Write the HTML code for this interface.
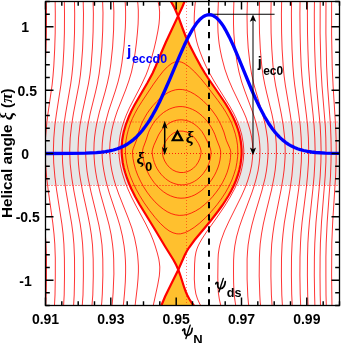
<!DOCTYPE html>
<html><head><meta charset="utf-8"><style>
html,body{margin:0;padding:0;background:#fff;width:342px;height:343px;overflow:hidden}
svg{display:block;will-change:transform}
</style></head><body>
<svg width="342" height="343" viewBox="0 0 342 343">
<defs><clipPath id="cp"><rect x="45.5" y="1.5" width="294.0" height="304.0"/></clipPath></defs>
<g clip-path="url(#cp)">
<rect x="45.5" y="122.4" width="294.0" height="62.6" fill="#e6e6e6"/>
<path d="M186,-2 182.5,6.5 178.1,16 183,29.5 185.9,37 189.6,45 195.5,56.5 200.9,66.5 204.5,72.5 208,78 220.7,96.5 225.4,103.5 229.6,110.5 233,117 234.8,121 236.6,125.5 238,129.5 239.2,133.5 240.1,137.5 240.8,141.5 241.3,145.5 241.6,149.5 241.6,154.5 241.2,159.5 240.4,165 239.3,170 237.9,175 235.9,180.5 233.6,186 231.1,191 228.6,195.5 225.5,200.5 222.2,205.5 218.2,211 210.1,221.5 194.6,240 189.1,247.5 186.9,251 184.8,255 178.4,269.5 178.4,270 180.4,275.5 184.2,287.5 185.7,291.5 187.2,295 189.3,299 191.9,303 194.2,306 197.5,309.5 160.1,309.5 162.2,303.5 165.1,296.5 168.5,289.5 176.7,273 178.2,270 178.2,269.5 176.2,265 173.5,260 165.4,247 154.9,229.5 139.6,204.5 135.1,196.5 131.4,189 129,183.5 126.9,178 125.1,172.5 123.7,167.5 122.7,162.5 122,157 121.6,152.5 121.6,147.5 122.2,140 122.9,136 123.7,132 126,124 128.9,116.5 131.4,111 134.5,105 147.6,82.5 152.7,73 155.8,66 161.6,52 165.7,42.5 177.9,16.5 178,16 177.6,15 174.3,7.5 171.5,2.5 168.6,-2Z" fill="#FFC02E"/>
<g stroke="#ff0000" fill="none" stroke-dasharray="1 2">
<path d="M45.5,122H339.5" stroke-width="1.2" opacity="0.7"/>
<path d="M45.5,185.5H339.5" stroke-width="1" opacity="0.85"/>
<path d="M46.0,153.5H339.5" stroke-width="1" opacity="0.85"/>
<path d="M186.5,2.0V305.5" stroke-width="1" opacity="0.5"/>
</g>
<g stroke="#ff0000" stroke-width="0.8" fill="none">
<path d="M46.3,-2 46.5,14 46.4,33 46,49 45.2,66 44.4,76 43.5,85 39.8,114 38.5,125 37.6,138 37.2,150 37.5,163 38.5,177 40,190 44.3,223 45.3,234 46,244 46.5,258 46.5,276 46.2,295 45.6,309"/>
<path d="M55.1,-2 55.3,14 55.2,33 54.7,49 53.8,66 53,76 52.1,85 47.9,114 46.6,125 45.5,138 45.2,150 45.5,163 46.6,177 48.2,190 52.8,223 54,234 54.8,244 55.3,258 55.3,276 55,295 54.3,309"/>
<path d="M64.3,-2 64.5,14 64.4,33 63.9,49 63,65 62.1,75 60.9,85 56.4,114 54.9,125 53.8,138 53.4,150 53.7,163 54.9,177 56.6,190 61.9,224 63.1,234 63.9,244 64.4,258 64.5,276 64.2,295 63.4,309"/>
<path d="M74.4,-2 74.7,14 74.5,33 73.9,49 72.9,65 71.9,75 70.7,84 65.5,114 63.9,125 62.7,138 62.2,150 62.6,163 63.9,177 65.8,190 71.7,224 73,234 73.9,244 74.5,258 74.6,276 74.2,295 73.4,309"/>
<path d="M83.1,-2 83.5,14 83.2,33 82.6,49 81.4,65 80.4,75 79.1,84 73.5,113 71.6,125 70.2,138 69.7,150 69.9,157 70.2,164 71.8,178 73.9,191 80.2,224 81.6,234 82.6,244 83.3,258 83.4,276 83,295 82,309"/>
<path d="M93,-2 93.4,14 93.1,32 92.4,48 91.1,65 89.9,75 88.4,84 82.2,113 80,125 78.5,138 78,150 78.1,157 78.5,164 79.2,171 80.2,178 82.5,191 87.8,215 89.8,225 91.4,235 92.5,245 93.2,259 93.3,276 92.8,295 91.7,309"/>
<path d="M102.5,-2 103,13 102.7,31 101.9,47 100.4,64 99.1,74 97.5,83 95.5,92 90.3,113 88.1,124 87,131 86.3,137 85.9,143 85.6,150 85.8,157 86.3,164 87,171 88.1,178 91,192 96.6,215 98.9,225 100.7,235 102,245 102.8,259 102.9,275 102.3,294 101.8,302 101.1,309"/>
<path d="M113.3,-2 113.9,12 113.6,30 112.6,47 110.8,64 109.3,74 107.4,83 105.1,92 99.4,112 96.6,124 95.4,131 94.6,137 94.1,143 93.9,150 94.1,157 94.6,164 95.5,171 96.9,179 100.2,193 106.7,216 109.1,225 111.2,235 112.6,245 113.3,252 113.7,259 113.9,274 113.1,293 112.4,302 111.7,309"/>
<path d="M124.8,-2 125.3,4 125.6,11 125.6,19 125.3,28 124,46 121.9,63 120.2,73 118,82 115.3,91 108.6,111 105.4,123 103.9,130 102.9,137 102.3,143 102,150 102.2,157 102.8,164 103.9,171 105.5,179 107.3,186 109.3,193 117.3,217 120,226 122.4,236 124.1,246 124.9,253 125.4,260 125.6,266 125.6,273 125.3,282 124.6,292 123.8,301 122.9,309"/>
<path d="M137.2,-2 137.9,4 138.3,10 138.3,17 138.1,24 137.4,33 136.4,43 135.1,53 133.6,62 131.5,72 128.8,81 125.6,90 117.3,111 115.3,117 113.5,123 111.9,130 110.7,137 110,143 109.7,150 110,157 110.7,164 111.9,171 113.8,179 115.9,186 118.7,194 128.2,218 131.8,228 134.6,238 136.6,248 137.6,255 138.1,261 138.4,266 138.4,272 138,279 137.3,287 134.7,309"/>
<path d="M157,-2 158.2,2 159.2,7 159.6,12 159.5,18 159,24 157.9,31 156.1,40 154,49 149.9,64 147.9,70 146,75 141.3,85 129.4,108 126.3,115 124,121 121.8,128 120.2,135 119.2,142 118.8,149 119.2,157 120.3,165 122.2,173 125.1,182 127.9,189 131.5,197 135.6,205 145.8,224 150.6,234 153.1,240 155.2,246 157.3,253 158.8,259 159.4,263 159.8,267 159.7,271 159.3,276 157.7,285 152.5,309"/>
<path d="M195.8,-2 194.9,6 194.4,13 194.2,19 194.3,25 194.7,31 195.5,36 196.6,41 198,46 200.1,52 202.8,59 205.9,66 208.9,72 214.6,82 229.6,106 233.5,113 236.4,119 239.5,127 241.8,135 243.2,143 243.8,150 243.7,154 243.4,159 242.7,164 241.7,169 240.7,173 239.1,178 237.2,183 235,188 230.2,197 224.7,206 218.6,215 205.8,233 201.9,239 199.6,243 198.1,246 196.9,249 196,252 195.1,257 194.6,264 194.3,279 194.9,288 195.9,294 197.5,299 199.8,304 203,309"/>
<path d="M218.5,-2 217.8,16 217.8,25 218,32 218.5,38 219.2,44 220.4,51 221.9,58 224.8,69 228.3,79 232.6,89 243.2,111 245.8,117 247.9,123 250,130 251.6,137 252.5,144 252.8,150 252.6,157 251.7,165 250,173 247.6,181 245,188 241.5,196 229.1,221 224.5,231 221.2,240 220.1,244 219.2,248 218.3,254 218,260 217.8,277 218,287 218.4,293 219.3,299 220.4,304 222.1,309"/>
<path d="M234,-2 233.5,15 233.5,24 233.8,33 234.9,47 237,62 239,72 241.7,82 244.8,91 252.6,112 254.6,118 256.3,124 257.9,131 259,137 259.7,144 260,150 259.8,157 259.1,164 258,171 256.1,179 254.1,186 251.8,193 242.8,217 239.3,227 236.5,237 234.8,246 234,253 233.6,260 233.5,271 233.6,282 233.9,290 234.5,297 235.3,303 236.4,309"/>
<path d="M247.5,-2 247,15 247.3,33 248.2,48 250,64 251.6,74 253.8,84 256.3,93 262.3,113 265.3,125 266.5,132 267.4,138 267.9,144 268.1,150 267.9,157 267.3,164 266.4,171 265.1,178 261.8,191 254.6,215 251.9,225 249.7,235 248.1,245 247.5,252 247.1,259 247.1,279 247.8,296 248.4,303 249.2,309"/>
<path d="M259.6,-2 259.2,14 259.5,33 260.3,49 261.7,65 263,75 264.7,84 266.7,93 271.9,114 274.1,125 275.2,132 275.8,138 276.3,144 276.4,150 276.3,157 275.9,163 275.2,170 274.1,177 271.5,190 265.6,214 263.3,224 261.5,234 260.2,244 259.7,251 259.4,258 259.2,276 259.8,295 260.2,302 261,309"/>
<path d="M271.2,-2 270.9,14 271.1,33 271.8,49 273,66 274.1,76 275.5,85 281.3,114 283.2,125 284.7,138 285.2,150 285.1,157 284.7,163 284.1,170 283.2,177 281,190 274.4,223 272.8,234 271.7,244 271,258 270.9,276 271.4,295 272.3,309"/>
<path d="M281.7,-2 281.4,14 281.6,33 282.1,49 283.2,66 284.1,76 285.3,85 290.2,114 291.9,126 293,138 293.4,150 293.1,162 291.9,176 289.9,190 284.3,223 283,234 282.1,244 281.5,258 281.4,276 281.8,295 282.6,309"/>
<path d="M291.6,-2 291.4,14 291.6,33 292,49 292.9,66 293.7,76 294.7,85 298.8,114 300.3,126 301.2,138 301.6,150 301.3,162 300.2,176 298.7,189 293.9,223 292.8,233 292.1,243 291.5,257 291.4,275 291.7,294 292.4,309"/>
<path d="M300.1,-2 299.9,14 300.1,33 300.5,49 301.2,66 301.9,76 302.7,85 306.4,115 307.6,126 308.4,138 308.7,150 308.5,162 307.5,176 306.2,189 302.1,222 301.1,233 300.5,243 300,257 299.9,275 300.2,294 300.8,309"/>
<path d="M307.6,-2 307.4,14 307.5,33 307.9,49 308.5,66 310,86 313.1,115 314.1,126 314.8,138 315.1,150 314.9,162 314.1,176 312.9,189 309.4,222 308.5,233 307.9,243 307.5,257 307.4,275 307.7,295 308.2,309"/>
<path d="M314.5,-2 314.3,14 314.4,33 314.7,49 315.3,66 316.5,86 320.2,126 320.8,138 321.1,150 320.9,162 320.2,176 319.1,189 316,222 314.8,243 314.4,257 314.3,275 314.6,295 315,309"/>
<path d="M320.2,-2 320.1,33 320.9,66 322,86 325.3,126 325.8,138 326,150 325.9,162 325.2,176 321.5,222 320.4,243 320.1,257 320,275 320.2,295 320.6,309"/>
<path d="M326,-2 325.9,33 326.6,66 327.6,86 330.5,126 331,139 331.2,150 331,162 330.5,176 327.2,222 326.2,243 325.9,257 325.9,275 326,295 326.4,309"/>
<path d="M331.6,-2 331.6,34 332.2,67 333.1,86 335.6,126 336.1,139 336.2,150 336.1,162 335.6,176 332.7,222 331.8,243 331.6,275 332,309"/>
<path d="M180.7,233.8 184.8,232.7 189.2,230.6 194.2,227.4 199.8,223 205.8,217.4 211.5,211.3 217,204.7 222,197.9 225.8,192 229.1,186 231.9,180 234,174.2 235.8,168.4 236.9,162.5 237.7,156.2 237.8,150.8 237.5,145.2 236.7,139.8 235.4,134.2 233.7,128.8 231.6,123.2 229,117.8 225.9,112.2 222.5,106.9 218,100.6 206.5,85.5 200.5,78.2 194.8,72 189.5,67.1 185.2,64 183.2,62.9 181.5,62.2 179.5,61.7 177.8,61.6 176,61.8 174.5,62.2 172.8,62.9 171,63.9 167.5,66.7 163.2,71.2 158.8,76.8 153.5,84.1 141.8,101.7 138,107.8 135,113.2 132.4,118.5 130.2,124 128.4,129.5 127,135 126,140.5 125.5,145.5 125.4,150.8 125.8,157 126.7,163.2 128.2,169.5 130.2,175.9 133,182.7 136.1,189.2 139.8,195.8 144,202.6 149.5,210.4 155,217.4 160.2,223.3 165,227.8 169,230.8 173,232.8 176.8,233.8 178.8,233.9 180.7,233.8Z"/>
<path d="M183.2,215.2 187.2,214.5 191.2,213.1 195.5,211 199.8,208.4 204.2,204.9 208.5,201.1 212.5,196.8 216.2,192.2 219.5,187.6 222.4,182.8 225,177.6 227,172.8 228.5,168 229.8,162.5 230.5,157.7 230.8,152.5 230.6,150.8 229.9,148.5 226.3,140.2 223.9,132 221.4,125.8 219.2,121.4 216.8,117.1 214,113 211.1,109.2 207.2,104.9 203,100.7 198.8,97.2 194.5,94.2 190.5,92 186.5,90.4 182.8,89.6 179,89.4 175.5,89.8 171.8,90.9 168.2,92.5 164.5,94.8 160.5,97.9 156.8,101.5 153,105.6 149.5,110 146.9,113.8 144.6,117.8 142.5,121.8 140.8,125.8 138.6,132 136.6,140 133.1,148.8 132.6,150.8 132.5,152.8 133,158.5 134.1,164 135.6,169.5 137.7,175.2 140.5,181.2 143.5,186.7 147,192.1 150.7,197 154.9,201.8 159,205.7 163.2,209.1 167.2,211.7 171.2,213.6 175.2,214.8 179.2,215.4 183.2,215.2Z"/>
<path d="M184.7,198 188,197.4 191.5,196.3 194.8,194.9 198,193 201.2,190.8 204.2,188.2 207.2,185.2 209.8,182.2 212.2,179 214.5,175.2 216.2,171.8 217.8,168 219.1,164 220,160 220.6,155.5 220.7,152 220.4,149.8 219.6,147 216.8,140 214.8,134.3 213.4,131.2 211.7,128 209.7,124.8 207.5,121.8 205,118.8 202,115.8 199,113.3 195.8,111.1 192.5,109.4 189.2,108.1 185.8,107.1 182.2,106.6 179,106.6 175.8,107 172.8,107.8 169.5,109 166.5,110.6 163.5,112.5 160.8,114.8 158,117.4 155.5,120.3 153.4,123.2 151.5,126.3 149.8,129.5 148.4,132.8 146.1,140 143.2,147.8 142.6,150.5 142.5,153 143,157.2 143.9,161.8 145.2,166.2 146.9,170.5 149.1,175 151.5,178.9 154.2,182.7 157.1,186 160.2,189.1 163.5,191.8 167,194.1 170.5,195.8 174,197.1 177.5,197.9 181,198.2 184.7,198Z"/>
<path d="M184.2,184.8 186.8,184.3 189.5,183.6 192,182.6 194.5,181.3 196.8,179.8 199,178 201.2,175.8 203.2,173.6 206.5,168.8 207.8,166.2 209,163.2 209.9,160.2 210.6,157 211,153.8 211,151.5 210.5,149 209.6,146.2 204.5,135.8 201.8,131.4 198.5,127.6 196.4,125.8 194.1,124 191.6,122.5 189.2,121.4 186.8,120.6 184.2,120.1 181.8,119.8 179.2,119.9 176.8,120.2 174.5,120.8 172.2,121.6 170,122.7 167.8,124.2 165.8,125.7 162.1,129.5 160.3,132 158.5,135 153.9,145.2 152.6,149.2 152.2,151.2 152.2,153 152.6,156.2 153.4,159.5 154.3,162.5 155.6,165.8 157.2,168.8 159,171.6 161,174.2 163.1,176.5 165.5,178.6 168,180.5 170.5,182 173.2,183.2 176,184.1 178.8,184.7 181.5,184.9 184.2,184.8Z"/>
<path d="M183.5,172.5 187,171.8 190.2,170.4 193.5,168.1 196,165.5 198.2,162.2 199.9,158.5 200.8,154.5 201,152.5 201,150.8 200.2,147.5 198.5,143.6 195.5,139 192.6,135.8 189.7,133.5 186.5,132 183.2,131.2 179.8,131.1 176.5,131.8 173.5,133.1 170.8,135 168.4,137.5 165.5,141.7 163.5,145.7 162.5,149.2 162.3,152.8 163.1,157 164.7,161 166.8,164.4 169.5,167.5 172.8,170 176.2,171.6 180,172.5 183.5,172.5Z"/>
</g>
<g stroke="#ff0000" stroke-width="2.2" fill="none"><path d="M186,-2 182.5,6.5 178.1,16 183,29.5 185.9,37 189.6,45 195.5,56.5 200.9,66.5 204.5,72.5 208,78 220.7,96.5 225.4,103.5 229.6,110.5 233,117 234.8,121 236.6,125.5 238,129.5 239.2,133.5 240.1,137.5 240.8,141.5 241.3,145.5 241.6,149.5 241.6,154.5 241.2,159.5 240.4,165 239.3,170 237.9,175 235.9,180.5 233.6,186 231.1,191 228.6,195.5 225.5,200.5 222.2,205.5 218.2,211 210.1,221.5 194.6,240 189.1,247.5 186.9,251 184.8,255 178.4,269.5 178.4,270 180.4,275.5 184.2,287.5 185.7,291.5 187.2,295 189.3,299 191.9,303 194.2,306 197.5,309.5"/><path d="M168.6,-2 171.5,2.5 174.3,7.5 177.6,15 178,16 177.9,16.5 165.7,42.5 161.6,52 155.8,66 152.7,73 147.6,82.5 134.5,105 131.4,111 128.9,116.5 126,124 123.7,132 122.9,136 122.2,140 121.6,147.5 121.6,152.5 122,157 122.7,162.5 123.7,167.5 125.1,172.5 126.9,178 129,183.5 131.4,189 135.1,196.5 139.6,204.5 154.9,229.5 165.4,247 173.5,260 176.2,265 178.2,269.5 178.2,270 176.7,273 168.5,289.5 165.1,296.5 162.2,303.5 160.1,309.5"/></g>
</g>
<path d="M209,-4.5V305.5" stroke="#000" stroke-width="2" stroke-dasharray="6.2 5.95"/>
<path d="M209,14.3H274.6" stroke="#000" stroke-width="1.1"/>
<path d="M45.5,153.5 71.5,153.4 85.5,153.2 96.5,152.7 101.5,152.2 105.5,151.6 109.5,150.9 113.5,150 117.5,148.7 120.5,147.6 124.5,145.7 127.5,144 130.5,141.9 133.5,139.6 136.5,136.9 139.5,133.7 142.5,130.2 144.5,127.6 147.5,123.4 149.5,120.3 152.5,115.3 155.5,109.9 159.5,102 164.5,91.2 169.5,79.8 179.5,56.1 184.5,44.8 188.5,36.6 192.5,29.4 195.5,24.8 197.5,22.1 199.5,19.8 201.5,18 203.5,16.5 205.5,15.5 207.5,14.9 209.5,14.7 211.5,15 213.5,15.8 215.5,17.1 217.5,18.8 219.5,20.9 221.5,23.5 223.5,26.4 225.5,29.8 229.5,37.4 233.5,46 238.5,57.8 251.5,89.5 255.5,98.6 259.5,107 264.5,116.5 268.5,123.2 272.5,129 274.5,131.6 277.5,135 279.5,137.1 282.5,139.9 285.5,142.3 288.5,144.4 291.5,146.1 294.5,147.5 297.5,148.7 300.5,149.7 303.5,150.5 307.5,151.4 311.5,152 315.5,152.5 325.5,153.1 339.5,153.4" stroke="#0000ff" stroke-width="3.3" fill="none" stroke-linejoin="round"/>
<path d="M253,20V149" stroke="#000" stroke-opacity="0.5" stroke-width="2"/>
<path d="M253,14.6 L256.2,21.8 L253,20.2 L249.8,21.8Z" fill="#000"/>
<path d="M253,155.2 L256.1,147.4 L253,149.3 L249.9,147.4Z" fill="#000"/>
<path d="M164.7,126V150" stroke="#000" stroke-width="1.5"/>
<path d="M164.7,120.7 L167.5,128.8 L164.7,126.9 L161.9,128.8Z" fill="#000"/>
<path d="M164.7,155.2 L167.5,147.1 L164.7,149 L161.9,147.1Z" fill="#000"/>
<g stroke="#000" fill="none">
<path d="M45.5,305.5V297.5M45.5,1.5V9.5M61.8,305.5V301.2M61.8,1.5V5.8M78.2,305.5V301.2M78.2,1.5V5.8M94.5,305.5V301.2M94.5,1.5V5.8M110.8,305.5V297.5M110.8,1.5V9.5M127.2,305.5V301.2M127.2,1.5V5.8M143.5,305.5V301.2M143.5,1.5V5.8M159.8,305.5V301.2M159.8,1.5V5.8M176.2,305.5V297.5M176.2,1.5V9.5M192.5,305.5V301.2M192.5,1.5V5.8M208.8,305.5V301.2M208.8,1.5V5.8M225.2,305.5V301.2M225.2,1.5V5.8M241.5,305.5V297.5M241.5,1.5V9.5M257.8,305.5V301.2M257.8,1.5V5.8M274.2,305.5V301.2M274.2,1.5V5.8M290.5,305.5V301.2M290.5,1.5V5.8M306.8,305.5V297.5M306.8,1.5V9.5M323.2,305.5V301.2M323.2,1.5V5.8M339.5,305.5V301.2M339.5,1.5V5.8M45.5,305.5H49.8M339.5,305.5H335.2M45.5,292.8H49.8M339.5,292.8H335.2M45.5,280.2H53.5M339.5,280.2H331.5M45.5,267.5H49.8M339.5,267.5H335.2M45.5,254.8H49.8M339.5,254.8H335.2M45.5,242.2H49.8M339.5,242.2H335.2M45.5,229.5H49.8M339.5,229.5H335.2M45.5,216.8H53.5M339.5,216.8H331.5M45.5,204.2H49.8M339.5,204.2H335.2M45.5,191.5H49.8M339.5,191.5H335.2M45.5,178.8H49.8M339.5,178.8H335.2M45.5,166.2H49.8M339.5,166.2H335.2M45.5,153.5H53.5M339.5,153.5H331.5M45.5,140.8H49.8M339.5,140.8H335.2M45.5,128.2H49.8M339.5,128.2H335.2M45.5,115.5H49.8M339.5,115.5H335.2M45.5,102.8H49.8M339.5,102.8H335.2M45.5,90.2H53.5M339.5,90.2H331.5M45.5,77.5H49.8M339.5,77.5H335.2M45.5,64.8H49.8M339.5,64.8H335.2M45.5,52.2H49.8M339.5,52.2H335.2M45.5,39.5H49.8M339.5,39.5H335.2M45.5,26.8H53.5M339.5,26.8H331.5M45.5,14.2H49.8M339.5,14.2H335.2M45.5,1.5H49.8M339.5,1.5H335.2" stroke-width="1.45"/>
<rect x="45.5" y="1.5" width="294.0" height="304.0" stroke-width="1.3"/>
</g>
<text x="45.5" y="323.8" font-family="Liberation Sans" font-size="14" font-weight="bold" font-style="normal" text-anchor="middle" fill="#000" >0.91</text>
<text x="110.8" y="323.8" font-family="Liberation Sans" font-size="14" font-weight="bold" font-style="normal" text-anchor="middle" fill="#000" >0.93</text>
<text x="176.2" y="323.8" font-family="Liberation Sans" font-size="14" font-weight="bold" font-style="normal" text-anchor="middle" fill="#000" >0.95</text>
<text x="241.5" y="323.8" font-family="Liberation Sans" font-size="14" font-weight="bold" font-style="normal" text-anchor="middle" fill="#000" >0.97</text>
<text x="306.8" y="323.8" font-family="Liberation Sans" font-size="14" font-weight="bold" font-style="normal" text-anchor="middle" fill="#000" >0.99</text>
<text x="25.2" y="31.7" font-family="Liberation Sans" font-size="14" font-weight="bold" font-style="normal" text-anchor="middle" fill="#000" >1</text>
<text x="27.3" y="95.5" font-family="Liberation Sans" font-size="14" font-weight="bold" font-style="normal" text-anchor="middle" fill="#000" >0.5</text>
<text x="25.2" y="158.8" font-family="Liberation Sans" font-size="14" font-weight="bold" font-style="normal" text-anchor="middle" fill="#000" >0</text>
<text x="27.7" y="222.1" font-family="Liberation Sans" font-size="14" font-weight="bold" font-style="normal" text-anchor="middle" fill="#000" >-0.5</text>
<text x="25.5" y="285.5" font-family="Liberation Sans" font-size="14" font-weight="bold" font-style="normal" text-anchor="middle" fill="#000" >-1</text>
<text transform="translate(11.8,153.2) rotate(-90)" text-anchor="middle" font-family="Liberation Sans" font-size="15.3" font-weight="bold">Helical angle <tspan font-family="Liberation Serif" font-style="italic" font-size="18">ξ</tspan> (<tspan font-family="Liberation Serif" font-style="italic" font-weight="bold" font-size="17">π</tspan>)</text>
<g fill="none" stroke="#000" stroke-linecap="round"><path d="M182.7,330.5 C183.1,328.8 184.9,328.1 184.7,330.5 C184.4,333.2 184.9,335.4 187.3,335.3 C190.3,335.1 191.9,332 192.2,328.3" stroke-width="1.7"/><path d="M190.2,325.1 L185.9,338.5" stroke-width="1.4"/></g>
<text x="193.2" y="343.7" font-family="Liberation Sans" font-weight="bold" font-size="13">N</text>
<g fill="none" stroke="#000" stroke-linecap="round" transform="translate(33.1,-46.7)"><path d="M182.7,330.5 C183.1,328.8 184.9,328.1 184.7,330.5 C184.4,333.2 184.9,335.4 187.3,335.3 C190.3,335.1 191.9,332 192.2,328.3" stroke-width="1.7"/><path d="M190.2,325.1 L185.9,338.5" stroke-width="1.4"/></g>
<text x="226.8" y="297" font-family="Liberation Sans" font-weight="bold" font-size="12.6">ds</text>
<text x="127" y="55.6" font-family="Liberation Sans" font-weight="bold" font-size="15.5" fill="#0000ff">j</text>
<text x="131.9" y="63.1" font-family="Liberation Sans" font-weight="bold" font-size="12.4" fill="#0000ff">eccd0</text>
<text x="257.7" y="67.3" font-family="Liberation Sans" font-weight="bold" font-size="14.5">j</text>
<text x="263.2" y="74.8" font-family="Liberation Sans" font-weight="bold" font-size="12">ec0</text>
<path fill-rule="evenodd" fill="#000" d="M170.9,141.2H184L177.45,129.3Z M174.5,139.2H180.4L177.45,134Z"/>
<text x="185.7" y="142.6" font-family="Liberation Serif" font-style="italic" font-weight="bold" font-size="17.5">ξ</text>
<text x="136.4" y="163.6" font-family="Liberation Serif" font-style="italic" font-weight="bold" font-size="17.5">ξ</text>
<text x="145.3" y="170.8" font-family="Liberation Sans" font-weight="bold" font-size="12.6">0</text>
</svg>
</body></html>
